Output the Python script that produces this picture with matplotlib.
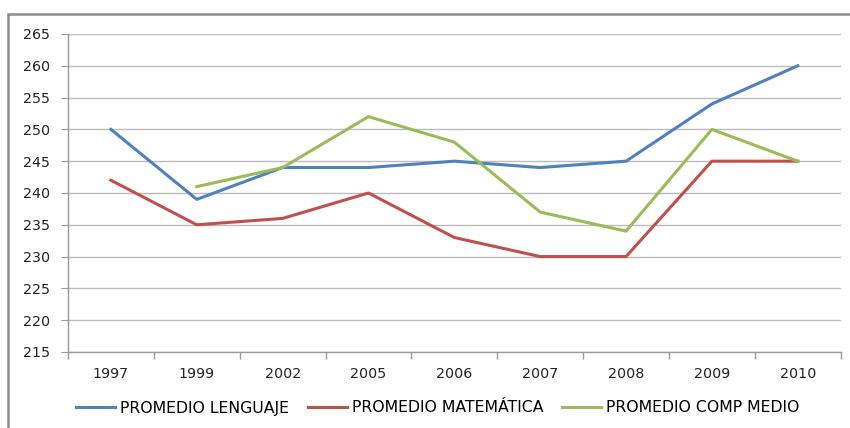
import matplotlib
matplotlib.use("Agg")
import matplotlib.pyplot as plt
from matplotlib.patches import Rectangle
import numpy as np

years = ["1997", "1999", "2002", "2005", "2006", "2007", "2008", "2009", "2010"]
lenguaje = [250, 239, 244, 244, 245, 244, 245, 254, 260]
matematica = [242, 235, 236, 240, 233, 230, 230, 245, 245]
comp_medio = [np.nan, 241, 244, 252, 248, 237, 234, 250, 245]
y_ticks = list(range(215, 266, 5))

plt.rcParams['font.family'] = ['DejaVu Sans']
plt.rcParams['font.size'] = 10.3

fig = plt.figure(figsize=(8.5, 4.28), dpi=100)
ax = fig.add_axes([0.08, 0.1776, 0.909, 0.743])

x = np.arange(len(years))
ax.plot(x, lenguaje, color='#4F81BD', lw=2.2, label='PROMEDIO LENGUAJE')
ax.plot(x, matematica, color='#C0504D', lw=2.2, label='PROMEDIO MATEMÁTICA')
ax.plot(x, comp_medio, color='#9BBB59', lw=2.2, label='PROMEDIO COMP MEDIO')

ax.set_xlim(-0.5, len(years) - 0.5)
ax.set_ylim(215, 265)
ax.set_yticks(y_ticks)
ax.set_xticks(x)
ax.set_xticklabels(years)
ax.set_xticks(np.arange(-0.5, len(years)), minor=True)
ax.tick_params(axis='x', which='major', length=0, pad=11, colors='#222222')
ax.tick_params(axis='x', which='minor', length=5, color='#999999', width=1)
ax.tick_params(axis='y', length=5, pad=8, color='#999999', colors='#222222')

ax.grid(axis='y', color='#bcbcbc', lw=1)
ax.set_axisbelow(True)
for s in ['top', 'right']:
    ax.spines[s].set_visible(False)
for s in ['left', 'bottom']:
    ax.spines[s].set_color('#999999')
    ax.spines[s].set_linewidth(1)

fig.legend(loc='center', bbox_to_anchor=(0.515, 1 - 408 / 428), ncol=3,
           frameon=False, fontsize=11.3, handlelength=2.5, handletextpad=0.3,
           columnspacing=1.2)

# outer chart border (cut off at right and bottom)
fig.patches.append(Rectangle((8 / 850, -0.1), 1.2, 0.1 + (428 - 14) / 428,
                             transform=fig.transFigure, fill=False,
                             edgecolor='#8c8c8c', lw=1.8))

fig.savefig('out.png', dpi=100)
